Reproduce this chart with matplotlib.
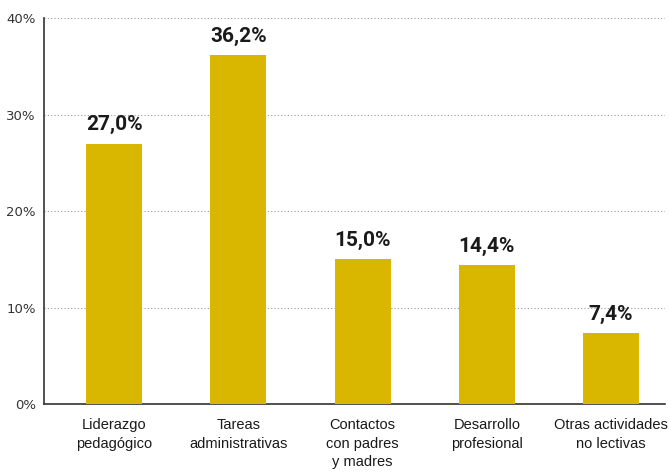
import matplotlib
matplotlib.use('Agg')
import matplotlib.pyplot as plt
import numpy as np

# Datos del grafico
categorias = ['Liderazgo\npedagógico', 'Tareas\nadministrativas', 'Contactos\ncon padres\ny madres',
              'Desarrollo\nprofesional', 'Otras actividades\nno lectivas']
valores = [27.0, 36.2, 15.0, 14.4, 7.4]
ticks_y = [0, 10, 20, 30, 40]

color_barra = '#D9B700'

fig = plt.figure(figsize=(6.69, 4.75), dpi=100)
ax = fig.add_axes([0.066, 0.149, 0.928, 0.813])

x = np.arange(len(categorias))
ax.bar(x, valores, width=0.45, color=color_barra, zorder=3)

for xi, v in zip(x, valores):
    ax.text(xi, v + 0.95, f'{v:.1f}%'.replace('.', ','), ha='center', va='bottom',
            fontsize=15, fontweight='bold', color='#1a1a1a', family='Roboto')

ax.set_xlim(-0.564, len(categorias) - 0.565)
ax.set_ylim(0, 40)
ax.set_yticks(ticks_y)
ax.set_yticklabels([f'{t}%' for t in ticks_y], fontsize=9.5, color='#333333')
ax.set_xticks(x)
ax.set_xticklabels(categorias, fontsize=10.5, color='#1a1a1a',
                   family=['Liberation Sans Narrow', 'Liberation Sans'],
                   linespacing=1.4, va='top')
ax.tick_params(axis='both', length=0)
ax.tick_params(axis='x', pad=10)
ax.tick_params(axis='y', pad=6)

ax.yaxis.grid(True, linestyle=(0, (1, 2)), color='#999999', linewidth=0.8, zorder=0)
for s in ['top', 'right']:
    ax.spines[s].set_visible(False)
ax.spines['left'].set_color('#333333')
ax.spines['bottom'].set_color('#333333')
ax.spines['left'].set_linewidth(1.2)
ax.spines['bottom'].set_linewidth(1.2)
ax.set_axisbelow(True)

plt.savefig('out.png', dpi=100)
